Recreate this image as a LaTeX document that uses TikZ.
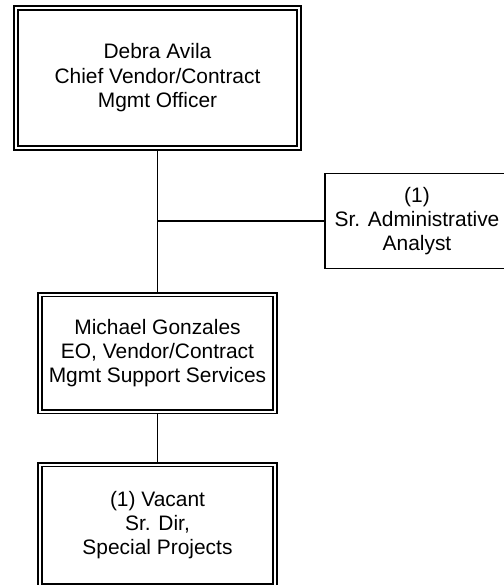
\documentclass[tikz,border=0pt]{standalone}
\usepackage{fontspec}
\setmainfont{Liberation Sans}
\usetikzlibrary{positioning,backgrounds}

\tikzset{
  orgbox/.style={draw, double, line width=1.8bp, double distance=2bp,
    align=center, inner sep=0pt, font=\fontsize{21}{24.5}\selectfont},
  staffbox/.style={draw, line width=1.9bp, fill=white,
    align=center, inner sep=0pt, font=\fontsize{21}{24.5}\selectfont},
  link/.style={line width=1.9bp}
}

\begin{document}
\begin{tikzpicture}[x=1bp,y=-1bp]
    \useasboundingbox (0,0) rectangle (504,585);
    \clip (0,0) rectangle (504,585);

    % Cuadros del organigrama.
    \node[orgbox, minimum width=283bp, minimum height=140bp] (chief) at (157.5,78)
      {Debra Avila\\Chief Vendor/Contract\\Mgmt Officer};
    \node[staffbox, minimum width=184bp, minimum height=95bp] (analyst) at (417,221)
      {(1)\\Sr. Administrative\\Analyst};
    \node[orgbox, minimum width=235bp, minimum height=117bp] (eo) at (157.5,353)
      {Michael Gonzales\\EO, Vendor/Contract\\Mgmt Support Services};
    \node[orgbox, minimum width=235bp, minimum height=121bp] (vacant) at (157.5,525)
      {(1) Vacant\\Sr. Dir,\\Special Projects};

    % Conectores.
    \coordinate (tap) at (chief.south |- analyst.west);
    \begin{scope}[on background layer]
      \draw[link] (chief.south) -- (eo.north);
      \draw[link] (tap) -- (analyst.west);
      \draw[link] (eo.south) -- (vacant.north);
    \end{scope}
\end{tikzpicture}
\end{document}
